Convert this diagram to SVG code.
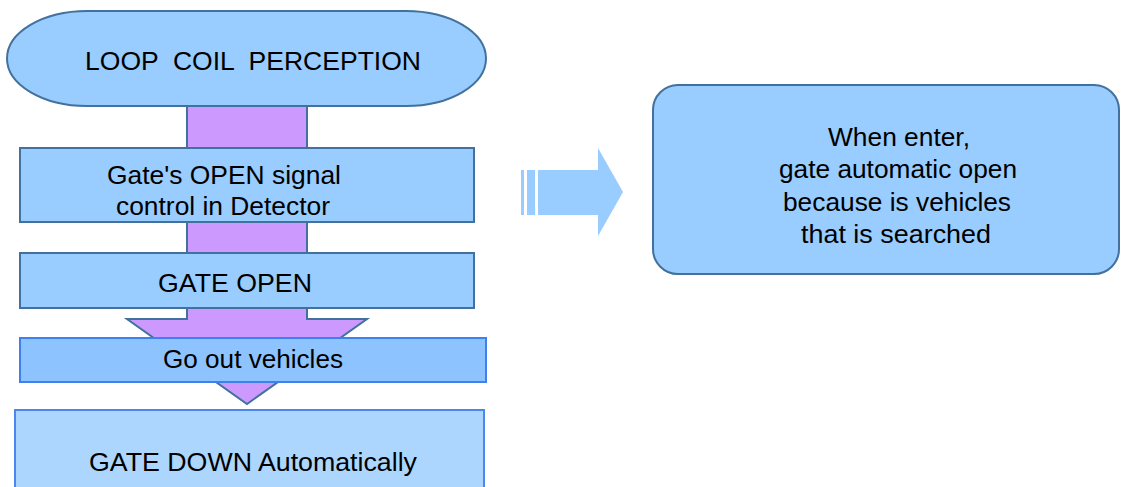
<svg xmlns="http://www.w3.org/2000/svg" width="1127" height="487" viewBox="0 0 1127 487">
<style>
text{font-family:"Liberation Sans",Arial,sans-serif;font-size:25px;fill:#000;text-anchor:middle}
.n{fill:#99CCFF;stroke:#41719C;stroke-width:2}
.arrow{fill:#CC99FF;stroke:#41719C;stroke-width:2}
</style>
<rect width="1127" height="487" fill="#fff"/>
<g id="connectors">
<polygon class="arrow" points="187,106 307,106 307,319 367,319 247,404 127,319 187,319"/>
<g id="side-arrow" fill="#99CCFF">
<rect x="521" y="170" width="3" height="45"/>
<rect x="527" y="170" width="8" height="45"/>
<polygon points="538,170 598,170 598,148 623,192 598,236 598,215 538,215"/>
</g>
</g>
<g id="loop-coil">
<rect class="n" x="7" y="11" width="479" height="95" rx="80" ry="47.5"/>
<text x="253" y="70" textLength="336" lengthAdjust="spacingAndGlyphs" xml:space="preserve">LOOP  COIL  PERCEPTION</text>
</g>
<g id="open-signal">
<rect class="n" x="20" y="148" width="454" height="74"/>
<text x="224" y="184" textLength="234" lengthAdjust="spacingAndGlyphs">Gate's OPEN signal</text>
<text x="223" y="215" textLength="214" lengthAdjust="spacingAndGlyphs">control in Detector</text>
</g>
<g id="gate-open">
<rect class="n" x="20" y="253" width="454" height="55"/>
<text x="235" y="292" textLength="154" lengthAdjust="spacingAndGlyphs">GATE OPEN</text>
</g>
<g id="go-out">
<rect x="20" y="338" width="466" height="44" fill="#8DC3FF" stroke="#3F80F0" stroke-width="2"/>
<text x="253" y="368" textLength="180" lengthAdjust="spacingAndGlyphs">Go out vehicles</text>
</g>
<g id="gate-down">
<rect x="15" y="410" width="469" height="90" fill="#ADD6FF" stroke="#4A88F0" stroke-width="2"/>
<text x="253" y="471" textLength="328" lengthAdjust="spacingAndGlyphs">GATE DOWN Automatically</text>
</g>
<g id="note">
<rect class="n" x="653" y="85" width="466" height="189" rx="25" ry="25"/>
<text x="899" y="146" textLength="142" lengthAdjust="spacingAndGlyphs">When enter,</text>
<text x="898" y="178" textLength="238" lengthAdjust="spacingAndGlyphs">gate automatic open</text>
<text x="897" y="211" textLength="228" lengthAdjust="spacingAndGlyphs">because is vehicles</text>
<text x="896" y="243" textLength="190" lengthAdjust="spacingAndGlyphs">that is searched</text>
</g>
</svg>
